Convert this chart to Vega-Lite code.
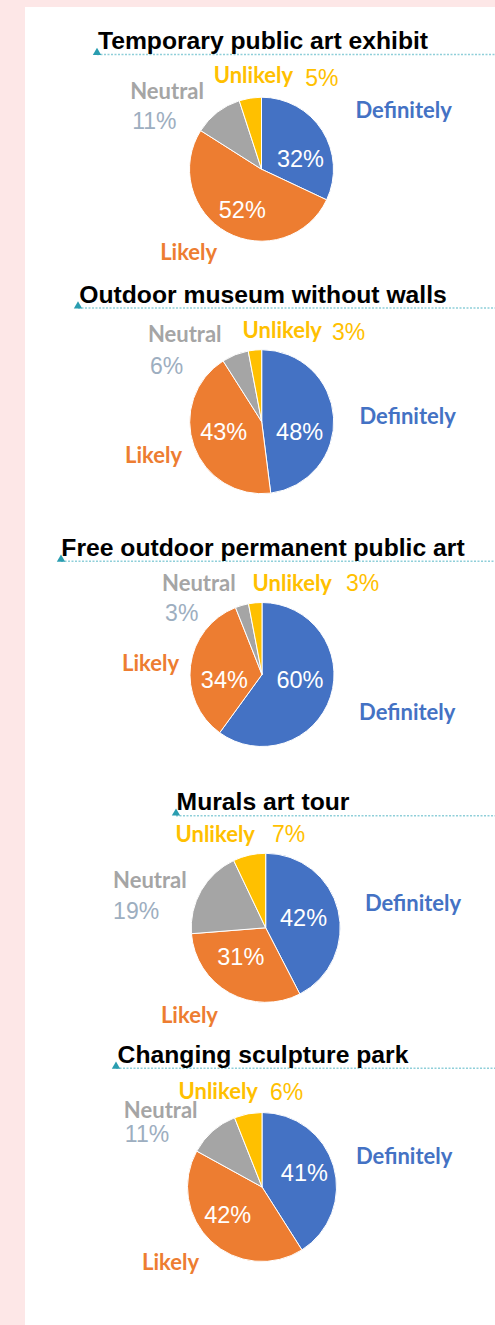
{
"$schema": "https://vega.github.io/schema/vega-lite/v6.json",
"background": "#FDE7E7",
"padding": {"left": 25, "top": 7, "right": 0, "bottom": 0},
"spacing": 0,
"bounds": "flush",
"config": {"view": {"fill": "#ffffff", "stroke": null}},
"data": {"values": [
{"chart": "Temporary public art exhibit", "answer": "Definitely", "value": 0.32},
{"chart": "Temporary public art exhibit", "answer": "Likely", "value": 0.52},
{"chart": "Temporary public art exhibit", "answer": "Neutral", "value": 0.11},
{"chart": "Temporary public art exhibit", "answer": "Unlikely", "value": 0.05},
{"chart": "Outdoor museum without walls", "answer": "Definitely", "value": 0.48},
{"chart": "Outdoor museum without walls", "answer": "Likely", "value": 0.43},
{"chart": "Outdoor museum without walls", "answer": "Neutral", "value": 0.06},
{"chart": "Outdoor museum without walls", "answer": "Unlikely", "value": 0.03},
{"chart": "Free outdoor permanent public art", "answer": "Definitely", "value": 0.60},
{"chart": "Free outdoor permanent public art", "answer": "Likely", "value": 0.34},
{"chart": "Free outdoor permanent public art", "answer": "Neutral", "value": 0.03},
{"chart": "Free outdoor permanent public art", "answer": "Unlikely", "value": 0.03},
{"chart": "Murals art tour", "answer": "Definitely", "value": 0.42},
{"chart": "Murals art tour", "answer": "Likely", "value": 0.31},
{"chart": "Murals art tour", "answer": "Neutral", "value": 0.19},
{"chart": "Murals art tour", "answer": "Unlikely", "value": 0.07},
{"chart": "Changing sculpture park", "answer": "Definitely", "value": 0.41},
{"chart": "Changing sculpture park", "answer": "Likely", "value": 0.42},
{"chart": "Changing sculpture park", "answer": "Neutral", "value": 0.11},
{"chart": "Changing sculpture park", "answer": "Unlikely", "value": 0.06}
]},
"vconcat": [
{
"width": 470, "height": 265,
"view": {"fill": "#ffffff", "stroke": null},
"transform": [{"filter": "datum.chart === 'Temporary public art exhibit'"}],
"layer": [
{"transform": [{"filter": "datum.answer === 'Definitely'"}], "mark": {"type": "rule", "orient": "horizontal", "color": "#8FCFD9", "strokeWidth": 1.5, "strokeDash": [2, 1.5], "yOffset": -85}, "encoding": {"x": {"datum": 0, "type": "quantitative", "scale": {"domain": [0, 1], "range": [72, 470]}, "axis": null}, "x2": {"datum": 1}}},
{"transform": [{"filter": "datum.answer === 'Definitely'"}], "mark": {"type": "point", "shape": "triangle-up", "filled": true, "opacity": 1, "color": "#2A9DB0", "size": 70, "yOffset": -88.1}, "encoding": {"x": {"datum": 0, "type": "quantitative", "scale": {"domain": [0, 1], "range": [72, 470]}, "axis": null}}},
{"transform": [{"filter": "datum.answer === 'Definitely'"}], "mark": {"type": "text", "font": "Liberation Sans", "fontWeight": "bold", "fontSize": 24.7, "color": "#000000", "align": "center", "baseline": "alphabetic", "xOffset": 3, "yOffset": -90.3}, "encoding": {"text": {"field": "chart", "type": "nominal"}}},
{"mark": {"type": "arc", "outerRadius": 72, "stroke": "#ffffff", "strokeWidth": 1, "xOffset": 1.5, "yOffset": 29.7}, "encoding": {"theta": {"field": "value", "type": "quantitative", "stack": "normalize"}, "order": {"field": "answer", "sort": "ascending"}, "color": {"field": "answer", "type": "nominal", "scale": {"domain": ["Definitely", "Likely", "Neutral", "Unlikely"], "range": ["#4472C4", "#ED7D31", "#A5A5A5", "#FFC000"]}, "legend": null}}},
{"mark": {"type": "text", "radius": 42, "font": "Liberation Sans", "fontSize": 23.5, "color": "#ffffff", "align": "center", "baseline": "middle", "xOffset": 1.5, "yOffset": 29.7, "dx": 3.5, "dy": 13.5}, "encoding": {"theta": {"field": "value", "type": "quantitative", "stack": "normalize"}, "order": {"field": "answer", "sort": "ascending"}, "text": {"condition": {"test": "datum.answer === 'Definitely'", "field": "value", "type": "quantitative", "format": ".0%"}, "value": ""}}},
{"mark": {"type": "text", "radius": 42, "font": "Liberation Sans", "fontSize": 23.5, "color": "#ffffff", "align": "center", "baseline": "middle", "xOffset": 1.5, "yOffset": 29.7, "dx": 1, "dy": 5}, "encoding": {"theta": {"field": "value", "type": "quantitative", "stack": "normalize"}, "order": {"field": "answer", "sort": "ascending"}, "text": {"condition": {"test": "datum.answer === 'Likely'", "field": "value", "type": "quantitative", "format": ".0%"}, "value": ""}}},
{"mark": {"type": "text", "radius": 100, "font": "Lato", "fontWeight": "bold", "fontSize": 22, "color": "#4472C4", "align": "left", "baseline": "middle", "xOffset": 1.5, "yOffset": 29.7, "dx": 9.6, "dy": -4.4}, "encoding": {"theta": {"field": "value", "type": "quantitative", "stack": "normalize"}, "order": {"field": "answer", "sort": "ascending"}, "text": {"condition": {"test": "datum.answer === 'Definitely'", "field": "answer", "type": "nominal"}, "value": ""}}},
{"mark": {"type": "text", "radius": 92, "font": "Lato", "fontWeight": "bold", "fontSize": 22, "color": "#ED7D31", "align": "right", "baseline": "middle", "xOffset": 1.5, "yOffset": 29.7, "dx": 0, "dy": 3.4}, "encoding": {"theta": {"field": "value", "type": "quantitative", "stack": "normalize"}, "order": {"field": "answer", "sort": "ascending"}, "text": {"condition": {"test": "datum.answer === 'Likely'", "field": "answer", "type": "nominal"}, "value": ""}}},
{"mark": {"type": "text", "radius": 100, "font": "Lato", "fontWeight": "bold", "fontSize": 22, "color": "#A5A5A5", "align": "left", "baseline": "middle", "xOffset": 1.5, "yOffset": 29.7, "dx": -70, "dy": 1.5}, "encoding": {"theta": {"field": "value", "type": "quantitative", "stack": "normalize"}, "order": {"field": "answer", "sort": "ascending"}, "text": {"condition": {"test": "datum.answer === 'Neutral'", "field": "answer", "type": "nominal"}, "value": ""}}},
{"mark": {"type": "text", "radius": 100, "font": "Liberation Sans", "fontSize": 23, "color": "#9DAEC0", "align": "left", "baseline": "middle", "xOffset": 1.5, "yOffset": 29.7, "dx": -68, "dy": 32}, "encoding": {"theta": {"field": "value", "type": "quantitative", "stack": "normalize"}, "order": {"field": "answer", "sort": "ascending"}, "text": {"condition": {"test": "datum.answer === 'Neutral'", "field": "value", "type": "quantitative", "format": ".0%"}, "value": ""}}},
{"mark": {"type": "text", "radius": 100, "font": "Lato", "fontWeight": "bold", "fontSize": 22, "color": "#FFC000", "align": "right", "baseline": "middle", "xOffset": 1.5, "yOffset": 29.7, "dx": 47.3, "dy": 5.2}, "encoding": {"theta": {"field": "value", "type": "quantitative", "stack": "normalize"}, "order": {"field": "answer", "sort": "ascending"}, "text": {"condition": {"test": "datum.answer === 'Unlikely'", "field": "answer", "type": "nominal"}, "value": ""}}},
{"mark": {"type": "text", "radius": 100, "font": "Liberation Sans", "fontSize": 23, "color": "#FFC000", "align": "left", "baseline": "middle", "xOffset": 1.5, "yOffset": 29.7, "dx": 59.3, "dy": 8.6}, "encoding": {"theta": {"field": "value", "type": "quantitative", "stack": "normalize"}, "order": {"field": "answer", "sort": "ascending"}, "text": {"condition": {"test": "datum.answer === 'Unlikely'", "field": "value", "type": "quantitative", "format": ".0%"}, "value": ""}}}
]
},
{
"width": 470, "height": 233,
"view": {"fill": "#ffffff", "stroke": null},
"transform": [{"filter": "datum.chart === 'Outdoor museum without walls'"}],
"layer": [
{"transform": [{"filter": "datum.answer === 'Definitely'"}], "mark": {"type": "rule", "orient": "horizontal", "color": "#8FCFD9", "strokeWidth": 1.5, "strokeDash": [2, 1.5], "yOffset": -80.5}, "encoding": {"x": {"datum": 0, "type": "quantitative", "scale": {"domain": [0, 1], "range": [53, 470]}, "axis": null}, "x2": {"datum": 1}}},
{"transform": [{"filter": "datum.answer === 'Definitely'"}], "mark": {"type": "point", "shape": "triangle-up", "filled": true, "opacity": 1, "color": "#2A9DB0", "size": 70, "yOffset": -83.6}, "encoding": {"x": {"datum": 0, "type": "quantitative", "scale": {"domain": [0, 1], "range": [53, 470]}, "axis": null}}},
{"transform": [{"filter": "datum.answer === 'Definitely'"}], "mark": {"type": "text", "font": "Liberation Sans", "fontWeight": "bold", "fontSize": 24.7, "color": "#000000", "align": "center", "baseline": "alphabetic", "xOffset": 3, "yOffset": -85.8}, "encoding": {"text": {"field": "chart", "type": "nominal"}}},
{"mark": {"type": "arc", "outerRadius": 72, "stroke": "#ffffff", "strokeWidth": 1, "xOffset": 1.7, "yOffset": 33.2}, "encoding": {"theta": {"field": "value", "type": "quantitative", "stack": "normalize"}, "order": {"field": "answer", "sort": "ascending"}, "color": {"field": "answer", "type": "nominal", "scale": {"domain": ["Definitely", "Likely", "Neutral", "Unlikely"], "range": ["#4472C4", "#ED7D31", "#A5A5A5", "#FFC000"]}, "legend": null}}},
{"mark": {"type": "text", "radius": 42, "font": "Liberation Sans", "fontSize": 23.5, "color": "#ffffff", "align": "center", "baseline": "middle", "xOffset": 1.7, "yOffset": 33.2, "dx": -4, "dy": 13.6}, "encoding": {"theta": {"field": "value", "type": "quantitative", "stack": "normalize"}, "order": {"field": "answer", "sort": "ascending"}, "text": {"condition": {"test": "datum.answer === 'Definitely'", "field": "value", "type": "quantitative", "format": ".0%"}, "value": ""}}},
{"mark": {"type": "text", "radius": 42, "font": "Liberation Sans", "fontSize": 23.5, "color": "#ffffff", "align": "center", "baseline": "middle", "xOffset": 1.7, "yOffset": 33.2, "dx": 1.5, "dy": -3}, "encoding": {"theta": {"field": "value", "type": "quantitative", "stack": "normalize"}, "order": {"field": "answer", "sort": "ascending"}, "text": {"condition": {"test": "datum.answer === 'Likely'", "field": "value", "type": "quantitative", "format": ".0%"}, "value": ""}}},
{"mark": {"type": "text", "radius": 100, "font": "Lato", "fontWeight": "bold", "fontSize": 22, "color": "#4472C4", "align": "left", "baseline": "middle", "xOffset": 1.7, "yOffset": 33.2, "dx": -2, "dy": 2}, "encoding": {"theta": {"field": "value", "type": "quantitative", "stack": "normalize"}, "order": {"field": "answer", "sort": "ascending"}, "text": {"condition": {"test": "datum.answer === 'Definitely'", "field": "answer", "type": "nominal"}, "value": ""}}},
{"mark": {"type": "text", "radius": 92, "font": "Lato", "fontWeight": "bold", "fontSize": 22, "color": "#ED7D31", "align": "right", "baseline": "middle", "xOffset": 1.7, "yOffset": 33.2, "dx": 7, "dy": 3}, "encoding": {"theta": {"field": "value", "type": "quantitative", "stack": "normalize"}, "order": {"field": "answer", "sort": "ascending"}, "text": {"condition": {"test": "datum.answer === 'Likely'", "field": "answer", "type": "nominal"}, "value": ""}}},
{"mark": {"type": "text", "radius": 100, "font": "Lato", "fontWeight": "bold", "fontSize": 22, "color": "#A5A5A5", "align": "left", "baseline": "middle", "xOffset": 1.7, "yOffset": 33.2, "dx": -77, "dy": 6.5}, "encoding": {"theta": {"field": "value", "type": "quantitative", "stack": "normalize"}, "order": {"field": "answer", "sort": "ascending"}, "text": {"condition": {"test": "datum.answer === 'Neutral'", "field": "answer", "type": "nominal"}, "value": ""}}},
{"mark": {"type": "text", "radius": 100, "font": "Liberation Sans", "fontSize": 23, "color": "#9DAEC0", "align": "left", "baseline": "middle", "xOffset": 1.7, "yOffset": 33.2, "dx": -75, "dy": 38}, "encoding": {"theta": {"field": "value", "type": "quantitative", "stack": "normalize"}, "order": {"field": "answer", "sort": "ascending"}, "text": {"condition": {"test": "datum.answer === 'Neutral'", "field": "value", "type": "quantitative", "format": ".0%"}, "value": ""}}},
{"mark": {"type": "text", "radius": 100, "font": "Lato", "fontWeight": "bold", "fontSize": 22, "color": "#FFC000", "align": "right", "baseline": "middle", "xOffset": 1.7, "yOffset": 33.2, "dx": 69.7, "dy": 8.9}, "encoding": {"theta": {"field": "value", "type": "quantitative", "stack": "normalize"}, "order": {"field": "answer", "sort": "ascending"}, "text": {"condition": {"test": "datum.answer === 'Unlikely'", "field": "answer", "type": "nominal"}, "value": ""}}},
{"mark": {"type": "text", "radius": 100, "font": "Liberation Sans", "fontSize": 23, "color": "#FFC000", "align": "left", "baseline": "middle", "xOffset": 1.7, "yOffset": 33.2, "dx": 79.7, "dy": 10.6}, "encoding": {"theta": {"field": "value", "type": "quantitative", "stack": "normalize"}, "order": {"field": "answer", "sort": "ascending"}, "text": {"condition": {"test": "datum.answer === 'Unlikely'", "field": "value", "type": "quantitative", "format": ".0%"}, "value": ""}}}
]
},
{
"width": 470, "height": 255,
"view": {"fill": "#ffffff", "stroke": null},
"transform": [{"filter": "datum.chart === 'Free outdoor permanent public art'"}],
"layer": [
{"transform": [{"filter": "datum.answer === 'Definitely'"}], "mark": {"type": "rule", "orient": "horizontal", "color": "#8FCFD9", "strokeWidth": 1.5, "strokeDash": [2, 1.5], "yOffset": -71.2}, "encoding": {"x": {"datum": 0, "type": "quantitative", "scale": {"domain": [0, 1], "range": [36, 470]}, "axis": null}, "x2": {"datum": 1}}},
{"transform": [{"filter": "datum.answer === 'Definitely'"}], "mark": {"type": "point", "shape": "triangle-up", "filled": true, "opacity": 1, "color": "#2A9DB0", "size": 70, "yOffset": -74.3}, "encoding": {"x": {"datum": 0, "type": "quantitative", "scale": {"domain": [0, 1], "range": [36, 470]}, "axis": null}}},
{"transform": [{"filter": "datum.answer === 'Definitely'"}], "mark": {"type": "text", "font": "Liberation Sans", "fontWeight": "bold", "fontSize": 24.7, "color": "#000000", "align": "center", "baseline": "alphabetic", "xOffset": 3, "yOffset": -76.5}, "encoding": {"text": {"field": "chart", "type": "nominal"}}},
{"mark": {"type": "arc", "outerRadius": 72, "stroke": "#ffffff", "strokeWidth": 1, "xOffset": 2, "yOffset": 42}, "encoding": {"theta": {"field": "value", "type": "quantitative", "stack": "normalize"}, "order": {"field": "answer", "sort": "ascending"}, "color": {"field": "answer", "type": "nominal", "scale": {"domain": ["Definitely", "Likely", "Neutral", "Unlikely"], "range": ["#4472C4", "#ED7D31", "#A5A5A5", "#FFC000"]}, "legend": null}}},
{"mark": {"type": "text", "radius": 42, "font": "Liberation Sans", "fontSize": 23.5, "color": "#ffffff", "align": "center", "baseline": "middle", "xOffset": 2, "yOffset": 42, "dx": -2, "dy": -6}, "encoding": {"theta": {"field": "value", "type": "quantitative", "stack": "normalize"}, "order": {"field": "answer", "sort": "ascending"}, "text": {"condition": {"test": "datum.answer === 'Definitely'", "field": "value", "type": "quantitative", "format": ".0%"}, "value": ""}}},
{"mark": {"type": "text", "radius": 42, "font": "Liberation Sans", "fontSize": 23.5, "color": "#ffffff", "align": "center", "baseline": "middle", "xOffset": 2, "yOffset": 42, "dx": 4, "dy": 12}, "encoding": {"theta": {"field": "value", "type": "quantitative", "stack": "normalize"}, "order": {"field": "answer", "sort": "ascending"}, "text": {"condition": {"test": "datum.answer === 'Likely'", "field": "value", "type": "quantitative", "format": ".0%"}, "value": ""}}},
{"mark": {"type": "text", "radius": 100, "font": "Lato", "fontWeight": "bold", "fontSize": 22, "color": "#4472C4", "align": "left", "baseline": "middle", "xOffset": 2, "yOffset": 42, "dx": 2, "dy": 7.5}, "encoding": {"theta": {"field": "value", "type": "quantitative", "stack": "normalize"}, "order": {"field": "answer", "sort": "ascending"}, "text": {"condition": {"test": "datum.answer === 'Definitely'", "field": "answer", "type": "nominal"}, "value": ""}}},
{"mark": {"type": "text", "radius": 92, "font": "Lato", "fontWeight": "bold", "fontSize": 22, "color": "#ED7D31", "align": "right", "baseline": "middle", "xOffset": 2, "yOffset": 42, "dx": 8.3, "dy": 1}, "encoding": {"theta": {"field": "value", "type": "quantitative", "stack": "normalize"}, "order": {"field": "answer", "sort": "ascending"}, "text": {"condition": {"test": "datum.answer === 'Likely'", "field": "answer", "type": "nominal"}, "value": ""}}},
{"mark": {"type": "text", "radius": 100, "font": "Lato", "fontWeight": "bold", "fontSize": 22, "color": "#A5A5A5", "align": "left", "baseline": "middle", "xOffset": 2, "yOffset": 42, "dx": -72, "dy": 6}, "encoding": {"theta": {"field": "value", "type": "quantitative", "stack": "normalize"}, "order": {"field": "answer", "sort": "ascending"}, "text": {"condition": {"test": "datum.answer === 'Neutral'", "field": "answer", "type": "nominal"}, "value": ""}}},
{"mark": {"type": "text", "radius": 100, "font": "Liberation Sans", "fontSize": 23, "color": "#9DAEC0", "align": "left", "baseline": "middle", "xOffset": 2, "yOffset": 42, "dx": -69, "dy": 36}, "encoding": {"theta": {"field": "value", "type": "quantitative", "stack": "normalize"}, "order": {"field": "answer", "sort": "ascending"}, "text": {"condition": {"test": "datum.answer === 'Neutral'", "field": "value", "type": "quantitative", "format": ".0%"}, "value": ""}}},
{"mark": {"type": "text", "radius": 100, "font": "Lato", "fontWeight": "bold", "fontSize": 22, "color": "#FFC000", "align": "right", "baseline": "middle", "xOffset": 2, "yOffset": 42, "dx": 79.4, "dy": 8.6}, "encoding": {"theta": {"field": "value", "type": "quantitative", "stack": "normalize"}, "order": {"field": "answer", "sort": "ascending"}, "text": {"condition": {"test": "datum.answer === 'Unlikely'", "field": "answer", "type": "nominal"}, "value": ""}}},
{"mark": {"type": "text", "radius": 100, "font": "Liberation Sans", "fontSize": 23, "color": "#FFC000", "align": "left", "baseline": "middle", "xOffset": 2, "yOffset": 42, "dx": 93.4, "dy": 8.6}, "encoding": {"theta": {"field": "value", "type": "quantitative", "stack": "normalize"}, "order": {"field": "answer", "sort": "ascending"}, "text": {"condition": {"test": "datum.answer === 'Unlikely'", "field": "value", "type": "quantitative", "format": ".0%"}, "value": ""}}}
]
},
{
"width": 470, "height": 276,
"view": {"fill": "#ffffff", "stroke": null},
"transform": [{"filter": "datum.chart === 'Murals art tour'"}],
"layer": [
{"transform": [{"filter": "datum.answer === 'Definitely'"}], "mark": {"type": "rule", "orient": "horizontal", "color": "#8FCFD9", "strokeWidth": 1.5, "strokeDash": [2, 1.5], "yOffset": -82.3}, "encoding": {"x": {"datum": 0, "type": "quantitative", "scale": {"domain": [0, 1], "range": [151, 470]}, "axis": null}, "x2": {"datum": 1}}},
{"transform": [{"filter": "datum.answer === 'Definitely'"}], "mark": {"type": "point", "shape": "triangle-up", "filled": true, "opacity": 1, "color": "#2A9DB0", "size": 70, "yOffset": -86}, "encoding": {"x": {"datum": 0, "type": "quantitative", "scale": {"domain": [0, 1], "range": [151, 470]}, "axis": null}}},
{"transform": [{"filter": "datum.answer === 'Definitely'"}], "mark": {"type": "text", "font": "Liberation Sans", "fontWeight": "bold", "fontSize": 24.7, "color": "#000000", "align": "center", "baseline": "alphabetic", "xOffset": 3, "yOffset": -88.2}, "encoding": {"text": {"field": "chart", "type": "nominal"}}},
{"mark": {"type": "arc", "outerRadius": 74.5, "stroke": "#ffffff", "strokeWidth": 1, "xOffset": 5.7, "yOffset": 29.8}, "encoding": {"theta": {"field": "value", "type": "quantitative", "stack": "normalize"}, "order": {"field": "answer", "sort": "ascending"}, "color": {"field": "answer", "type": "nominal", "scale": {"domain": ["Definitely", "Likely", "Neutral", "Unlikely"], "range": ["#4472C4", "#ED7D31", "#A5A5A5", "#FFC000"]}, "legend": null}}},
{"mark": {"type": "text", "radius": 42, "font": "Liberation Sans", "fontSize": 23.5, "color": "#ffffff", "align": "center", "baseline": "middle", "xOffset": 5.7, "yOffset": 29.8, "dx": -3, "dy": 1}, "encoding": {"theta": {"field": "value", "type": "quantitative", "stack": "normalize"}, "order": {"field": "answer", "sort": "ascending"}, "text": {"condition": {"test": "datum.answer === 'Definitely'", "field": "value", "type": "quantitative", "format": ".0%"}, "value": ""}}},
{"mark": {"type": "text", "radius": 42, "font": "Liberation Sans", "fontSize": 23.5, "color": "#ffffff", "align": "center", "baseline": "middle", "xOffset": 5.7, "yOffset": 29.8, "dx": -4.5, "dy": -6.5}, "encoding": {"theta": {"field": "value", "type": "quantitative", "stack": "normalize"}, "order": {"field": "answer", "sort": "ascending"}, "text": {"condition": {"test": "datum.answer === 'Likely'", "field": "value", "type": "quantitative", "format": ".0%"}, "value": ""}}},
{"mark": {"type": "text", "radius": 100, "font": "Lato", "fontWeight": "bold", "fontSize": 22, "color": "#4472C4", "align": "left", "baseline": "middle", "xOffset": 5.7, "yOffset": 29.8, "dx": 2, "dy": -0.5}, "encoding": {"theta": {"field": "value", "type": "quantitative", "stack": "normalize"}, "order": {"field": "answer", "sort": "ascending"}, "text": {"condition": {"test": "datum.answer === 'Definitely'", "field": "answer", "type": "nominal"}, "value": ""}}},
{"mark": {"type": "text", "radius": 92, "font": "Lato", "fontWeight": "bold", "fontSize": 22, "color": "#ED7D31", "align": "right", "baseline": "middle", "xOffset": 5.7, "yOffset": 29.8, "dx": -3, "dy": 7.6}, "encoding": {"theta": {"field": "value", "type": "quantitative", "stack": "normalize"}, "order": {"field": "answer", "sort": "ascending"}, "text": {"condition": {"test": "datum.answer === 'Likely'", "field": "answer", "type": "nominal"}, "value": ""}}},
{"mark": {"type": "text", "radius": 100, "font": "Lato", "fontWeight": "bold", "fontSize": 22, "color": "#A5A5A5", "align": "left", "baseline": "middle", "xOffset": 5.7, "yOffset": 29.8, "dx": -66, "dy": 2.7}, "encoding": {"theta": {"field": "value", "type": "quantitative", "stack": "normalize"}, "order": {"field": "answer", "sort": "ascending"}, "text": {"condition": {"test": "datum.answer === 'Neutral'", "field": "answer", "type": "nominal"}, "value": ""}}},
{"mark": {"type": "text", "radius": 100, "font": "Liberation Sans", "fontSize": 23, "color": "#9DAEC0", "align": "left", "baseline": "middle", "xOffset": 5.7, "yOffset": 29.8, "dx": -66, "dy": 34.5}, "encoding": {"theta": {"field": "value", "type": "quantitative", "stack": "normalize"}, "order": {"field": "answer", "sort": "ascending"}, "text": {"condition": {"test": "datum.answer === 'Neutral'", "field": "value", "type": "quantitative", "format": ".0%"}, "value": ""}}},
{"mark": {"type": "text", "radius": 100, "font": "Lato", "fontWeight": "bold", "fontSize": 22, "color": "#FFC000", "align": "right", "baseline": "middle", "xOffset": 5.7, "yOffset": 29.8, "dx": 11.3, "dy": 4.8}, "encoding": {"theta": {"field": "value", "type": "quantitative", "stack": "normalize"}, "order": {"field": "answer", "sort": "ascending"}, "text": {"condition": {"test": "datum.answer === 'Unlikely'", "field": "answer", "type": "nominal"}, "value": ""}}},
{"mark": {"type": "text", "radius": 100, "font": "Liberation Sans", "fontSize": 23, "color": "#FFC000", "align": "left", "baseline": "middle", "xOffset": 5.7, "yOffset": 29.8, "dx": 28.3, "dy": 4.4}, "encoding": {"theta": {"field": "value", "type": "quantitative", "stack": "normalize"}, "order": {"field": "answer", "sort": "ascending"}, "text": {"condition": {"test": "datum.answer === 'Unlikely'", "field": "value", "type": "quantitative", "format": ".0%"}, "value": ""}}}
]
},
{
"width": 470, "height": 289,
"view": {"fill": "#ffffff", "stroke": null},
"transform": [{"filter": "datum.chart === 'Changing sculpture park'"}],
"layer": [
{"transform": [{"filter": "datum.answer === 'Definitely'"}], "mark": {"type": "rule", "orient": "horizontal", "color": "#8FCFD9", "strokeWidth": 1.5, "strokeDash": [2, 1.5], "yOffset": -112.2}, "encoding": {"x": {"datum": 0, "type": "quantitative", "scale": {"domain": [0, 1], "range": [91, 470]}, "axis": null}, "x2": {"datum": 1}}},
{"transform": [{"filter": "datum.answer === 'Definitely'"}], "mark": {"type": "point", "shape": "triangle-up", "filled": true, "opacity": 1, "color": "#2A9DB0", "size": 70, "yOffset": -115.3}, "encoding": {"x": {"datum": 0, "type": "quantitative", "scale": {"domain": [0, 1], "range": [91, 470]}, "axis": null}}},
{"transform": [{"filter": "datum.answer === 'Definitely'"}], "mark": {"type": "text", "font": "Liberation Sans", "fontWeight": "bold", "fontSize": 24.7, "color": "#000000", "align": "center", "baseline": "alphabetic", "xOffset": 3, "yOffset": -117.5}, "encoding": {"text": {"field": "chart", "type": "nominal"}}},
{"mark": {"type": "arc", "outerRadius": 74.5, "stroke": "#ffffff", "strokeWidth": 1, "xOffset": 2, "yOffset": 6.5}, "encoding": {"theta": {"field": "value", "type": "quantitative", "stack": "normalize"}, "order": {"field": "answer", "sort": "ascending"}, "color": {"field": "answer", "type": "nominal", "scale": {"domain": ["Definitely", "Likely", "Neutral", "Unlikely"], "range": ["#4472C4", "#ED7D31", "#A5A5A5", "#FFC000"]}, "legend": null}}},
{"mark": {"type": "text", "radius": 42, "font": "Liberation Sans", "fontSize": 23.5, "color": "#ffffff", "align": "center", "baseline": "middle", "xOffset": 2, "yOffset": 6.5, "dx": 2, "dy": -1}, "encoding": {"theta": {"field": "value", "type": "quantitative", "stack": "normalize"}, "order": {"field": "answer", "sort": "ascending"}, "text": {"condition": {"test": "datum.answer === 'Definitely'", "field": "value", "type": "quantitative", "format": ".0%"}, "value": ""}}},
{"mark": {"type": "text", "radius": 42, "font": "Liberation Sans", "fontSize": 23.5, "color": "#ffffff", "align": "center", "baseline": "middle", "xOffset": 2, "yOffset": 6.5, "dx": -5.5, "dy": -2}, "encoding": {"theta": {"field": "value", "type": "quantitative", "stack": "normalize"}, "order": {"field": "answer", "sort": "ascending"}, "text": {"condition": {"test": "datum.answer === 'Likely'", "field": "value", "type": "quantitative", "format": ".0%"}, "value": ""}}},
{"mark": {"type": "text", "radius": 100, "font": "Lato", "fontWeight": "bold", "fontSize": 22, "color": "#4472C4", "align": "left", "baseline": "middle", "xOffset": 2, "yOffset": 6.5, "dx": -2, "dy": -2}, "encoding": {"theta": {"field": "value", "type": "quantitative", "stack": "normalize"}, "order": {"field": "answer", "sort": "ascending"}, "text": {"condition": {"test": "datum.answer === 'Definitely'", "field": "answer", "type": "nominal"}, "value": ""}}},
{"mark": {"type": "text", "radius": 92, "font": "Lato", "fontWeight": "bold", "fontSize": 22, "color": "#ED7D31", "align": "right", "baseline": "middle", "xOffset": 2, "yOffset": 6.5, "dx": 0, "dy": 9}, "encoding": {"theta": {"field": "value", "type": "quantitative", "stack": "normalize"}, "order": {"field": "answer", "sort": "ascending"}, "text": {"condition": {"test": "datum.answer === 'Likely'", "field": "answer", "type": "nominal"}, "value": ""}}},
{"mark": {"type": "text", "radius": 100, "font": "Lato", "fontWeight": "bold", "fontSize": 22, "color": "#A5A5A5", "align": "left", "baseline": "middle", "xOffset": 2, "yOffset": 6.5, "dx": -72, "dy": -1}, "encoding": {"theta": {"field": "value", "type": "quantitative", "stack": "normalize"}, "order": {"field": "answer", "sort": "ascending"}, "text": {"condition": {"test": "datum.answer === 'Neutral'", "field": "answer", "type": "nominal"}, "value": ""}}},
{"mark": {"type": "text", "radius": 100, "font": "Liberation Sans", "fontSize": 23, "color": "#9DAEC0", "align": "left", "baseline": "middle", "xOffset": 2, "yOffset": 6.5, "dx": -71, "dy": 23.3}, "encoding": {"theta": {"field": "value", "type": "quantitative", "stack": "normalize"}, "order": {"field": "answer", "sort": "ascending"}, "text": {"condition": {"test": "datum.answer === 'Neutral'", "field": "value", "type": "quantitative", "format": ".0%"}, "value": ""}}},
{"mark": {"type": "text", "radius": 100, "font": "Lato", "fontWeight": "bold", "fontSize": 22, "color": "#FFC000", "align": "right", "baseline": "middle", "xOffset": 2, "yOffset": 6.5, "dx": 14.7, "dy": 2.8}, "encoding": {"theta": {"field": "value", "type": "quantitative", "stack": "normalize"}, "order": {"field": "answer", "sort": "ascending"}, "text": {"condition": {"test": "datum.answer === 'Unlikely'", "field": "answer", "type": "nominal"}, "value": ""}}},
{"mark": {"type": "text", "radius": 100, "font": "Liberation Sans", "fontSize": 23, "color": "#FFC000", "align": "left", "baseline": "middle", "xOffset": 2, "yOffset": 6.5, "dx": 26.7, "dy": 4.2}, "encoding": {"theta": {"field": "value", "type": "quantitative", "stack": "normalize"}, "order": {"field": "answer", "sort": "ascending"}, "text": {"condition": {"test": "datum.answer === 'Unlikely'", "field": "value", "type": "quantitative", "format": ".0%"}, "value": ""}}}
]
}
]
}
